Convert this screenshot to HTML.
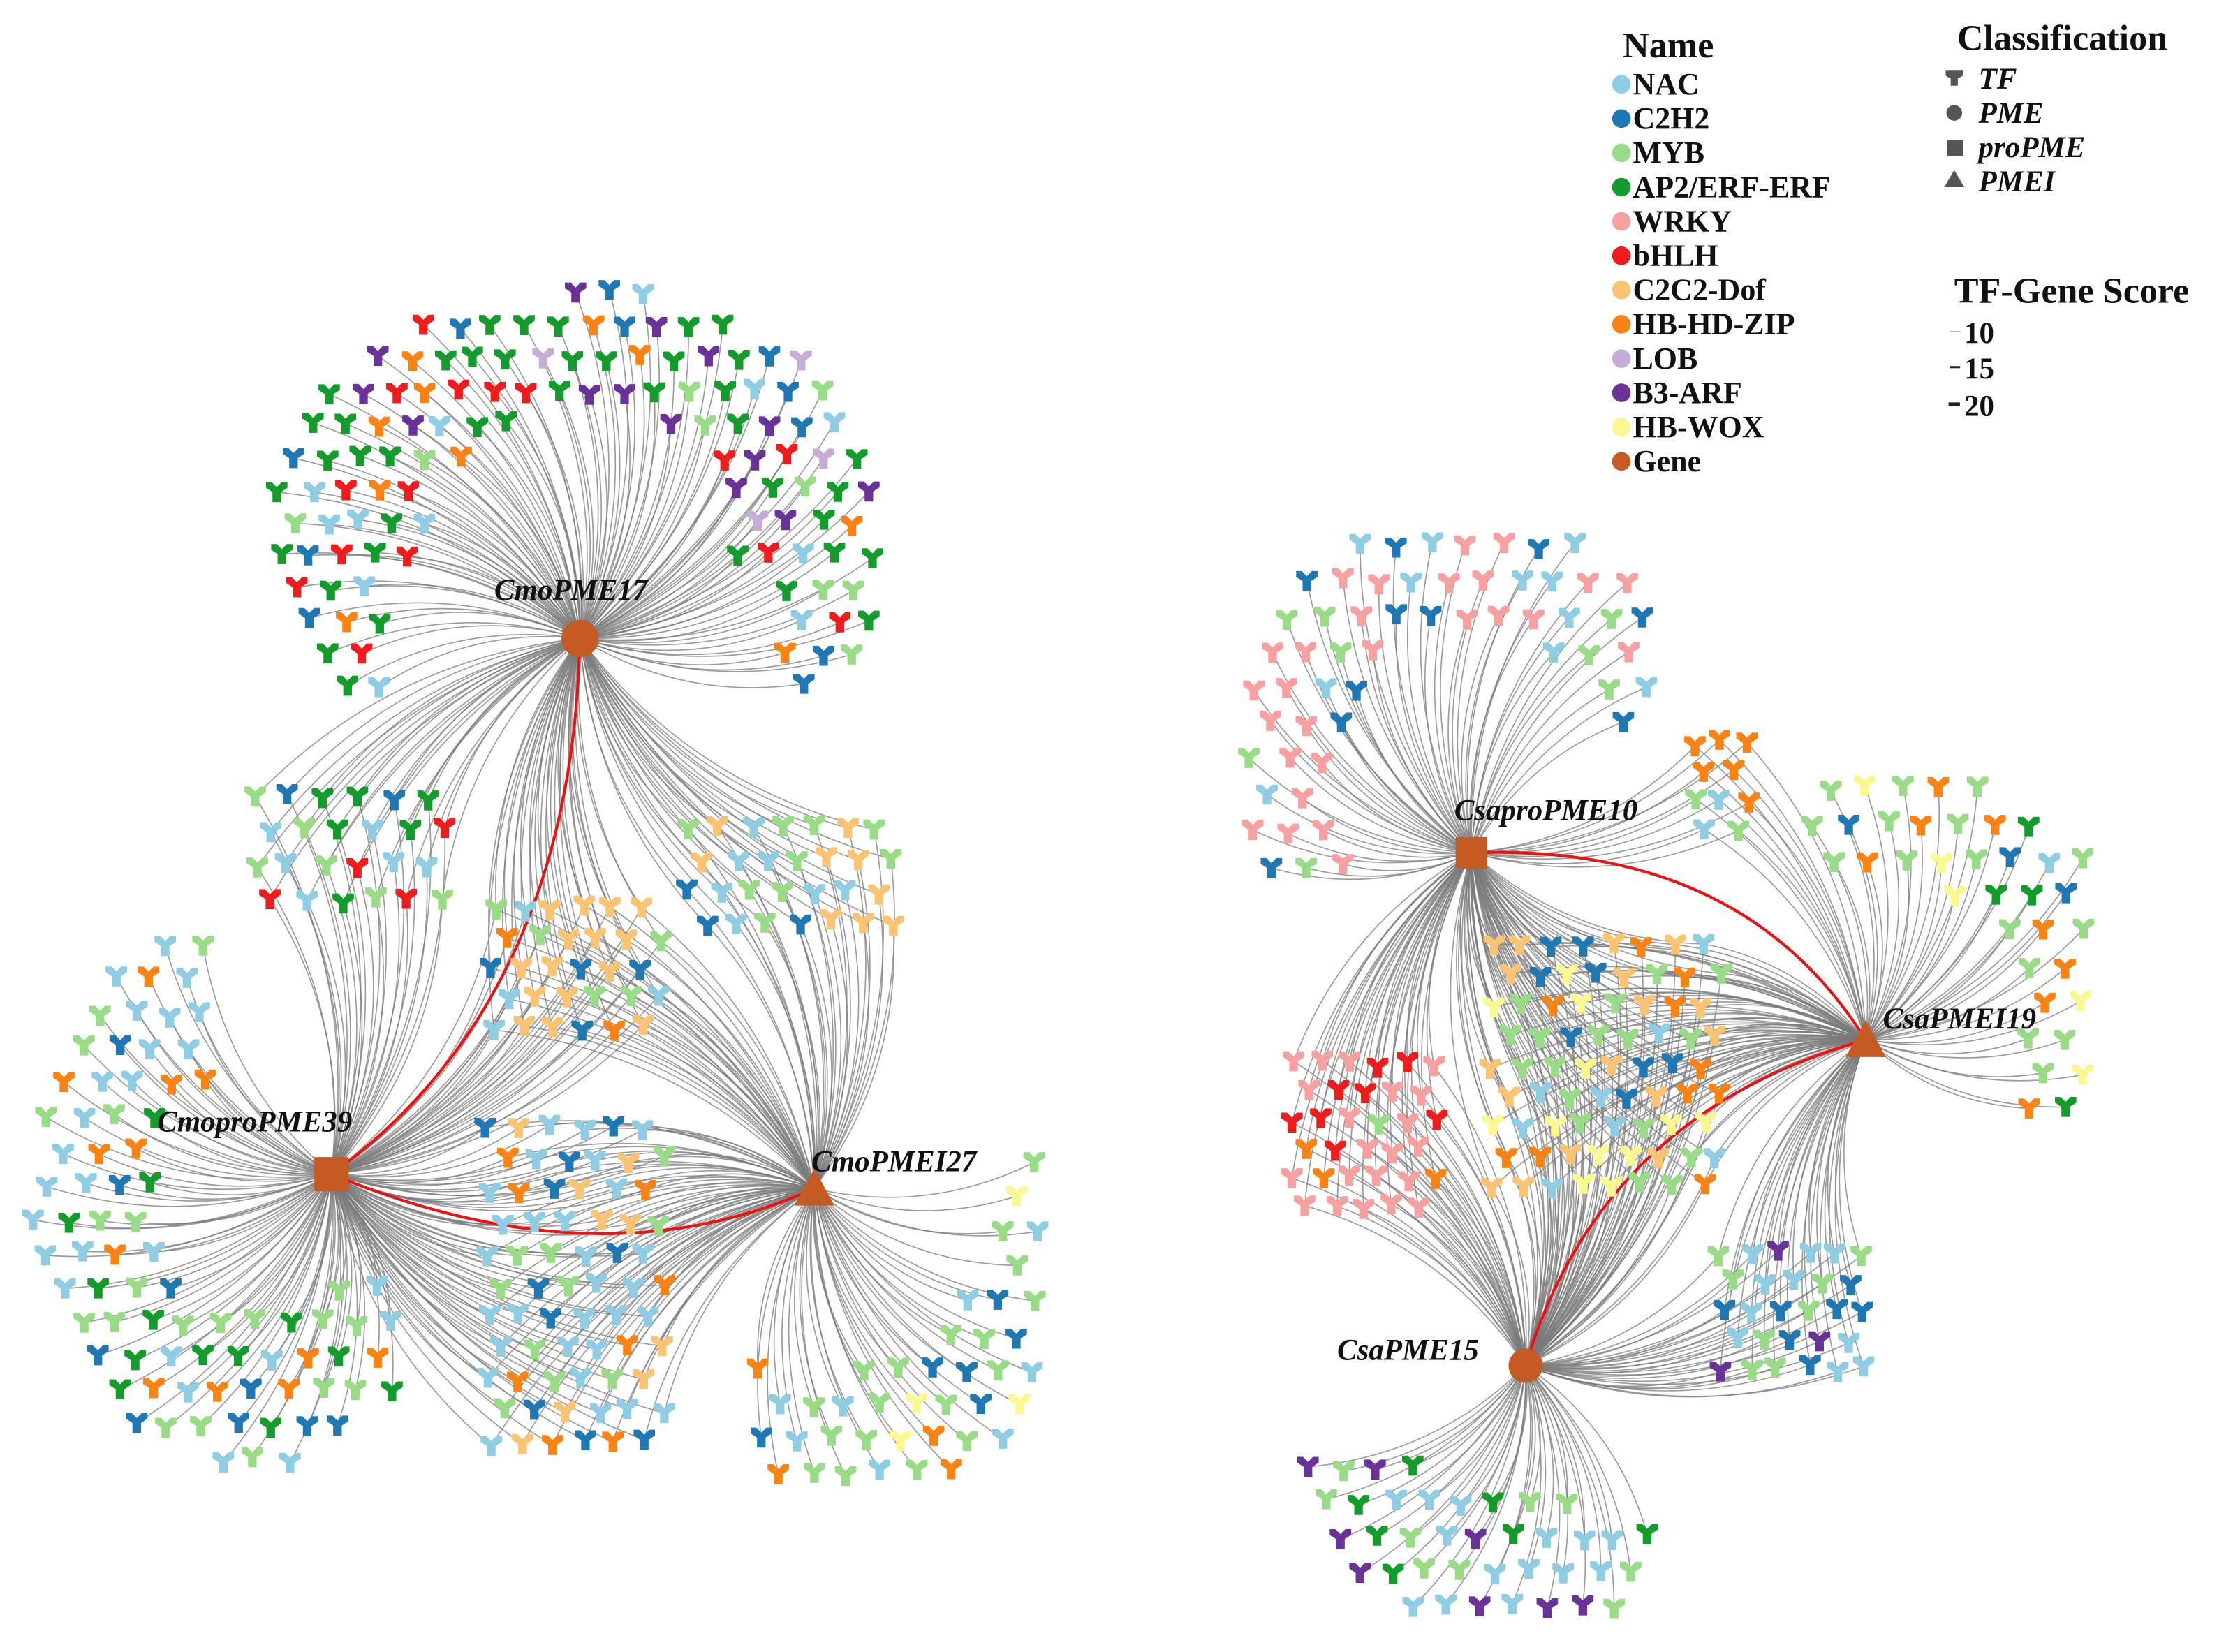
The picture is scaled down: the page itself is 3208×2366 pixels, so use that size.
<!DOCTYPE html>
<html><head><meta charset="utf-8">
<style>
html,body{margin:0;padding:0;background:#fff;}
svg{display:block;}
text{font-family:"Liberation Serif",serif;font-weight:bold;fill:#111;}
</style></head>
<body>
<svg id="s" width="3208" height="2366" viewBox="0 0 1568 1156.5" xmlns="http://www.w3.org/2000/svg">
<g id="edges" fill="none" stroke="#7a7a7a" stroke-width="0.8" stroke-opacity="0.75"></g>
<g id="red" fill="none" stroke="#f01010" stroke-width="2">
<path d="M406,447 Q400,700 232,822"/>
<path d="M232,822 Q420,900 570,832"/>
<path d="M1030,597 Q1220,590 1306,728"/>
<path d="M1306,728 Q1120,780 1068,956"/>
</g>
<g id="nodes"></g>
<g fill="#c55a22">
<circle cx="406" cy="447" r="13"/>
<rect x="220" y="810" width="24" height="24"/>
<polygon points="570,818 584,844 556,844"/>
<rect x="1019" y="586" width="22" height="22"/>
<polygon points="1306,714 1320,740 1292,740"/>
<circle cx="1068" cy="956" r="12"/>
</g>
<g font-style="italic" font-size="21">
<text x="346" y="420">CmoPME17</text>
<text x="110" y="792">CmoproPME39</text>
<text x="568" y="820">CmoPMEI27</text>
<text x="1018" y="574">CsaproPME10</text>
<text x="1318" y="720">CsaPMEI19</text>
<text x="936" y="952">CsaPME15</text>
</g>
<g font-size="25.5"><text x="1136" y="40">Name</text><text x="1370" y="35">Classification</text><text x="1368" y="212">TF-Gene Score</text></g>
<g id="leg" font-size="21.5"></g>
<g font-size="21" font-style="italic">
<text x="1385" y="62">TF</text><text x="1385" y="86">PME</text><text x="1385" y="110">proPME</text><text x="1385" y="134">PMEI</text>
</g>
<g fill="#555"><path d="M1362,49 h12 v4 l-3.5,2 v5 h-5 v-5 l-3.5,-2z"/><circle cx="1368" cy="79" r="5.5"/><rect x="1363" y="98" width="11" height="11"/><polygon points="1368,119 1375,131 1361,131"/></g>
<g font-size="21"><text x="1375" y="240">10</text><text x="1375" y="265">15</text><text x="1375" y="291">20</text></g>
<g stroke="#222"><line x1="1365" y1="232" x2="1372" y2="232" stroke-width="0.5" stroke="#aaa"/><line x1="1365" y1="257" x2="1372" y2="257" stroke-width="1.5"/><line x1="1364" y1="283" x2="1372" y2="283" stroke-width="2.5"/></g>
</svg>
<script>
var C={nac:"#8ecde3",c2h2:"#1f78b4",myb:"#98dc86",erf:"#139c2c",wrky:"#f8a0a0",bhlh:"#ee1c1c",dof:"#fcc373",hd:"#fb8313",lob:"#c8acd8",arf:"#6a3199",wox:"#fbf892",gene:"#c55a22"};
var legN=[["NAC","nac"],["C2H2","c2h2"],["MYB","myb"],["AP2/ERF-ERF","erf"],["WRKY","wrky"],["bHLH","bhlh"],["C2C2-Dof","dof"],["HB-HD-ZIP","hd"],["LOB","lob"],["B3-ARF","arf"],["HB-WOX","wox"],["Gene","gene"]];
var NS="http://www.w3.org/2000/svg",lg=document.getElementById("leg");
legN.forEach(function(l,i){var y=60+i*24;var c=document.createElementNS(NS,"circle");c.setAttribute("cx",1135);c.setAttribute("cy",y-1);c.setAttribute("r",6.5);c.setAttribute("fill",C[l[1]]);lg.appendChild(c);var t=document.createElementNS(NS,"text");t.setAttribute("x",1143);t.setAttribute("y",y+6);t.textContent=l[0];lg.appendChild(t);});
var seed=7;function rnd(){seed=(seed*16807)%2147483647;return (seed-1)/2147483646;}
var H={a:[406,447],b:[232,822],c:[570,832],d:[1030,597],e:[1306,728],f:[1068,956]};
var E="",N="";
function tf(x,y,col){return '<path transform="translate('+x.toFixed(1)+','+y.toFixed(1)+')" fill="'+col+'" d="M-7.5,-7 L-3.5,-7 L0,-3.5 L3.5,-7 L7.5,-7 L7.5,-3 L3,0 L3,7 L-3,7 L-3,0 L-7.5,-3Z"/>';}
function edge(x,y,h,s){var dx=x-h[0],dy=y-h[1];var mx=(x+h[0])/2-dy*0.18*s,my=(y+h[1])/2+dx*0.18*s;return '<path d="M'+h[0]+','+h[1]+' Q'+mx.toFixed(1)+','+my.toFixed(1)+' '+x.toFixed(1)+','+y.toFixed(1)+'"/>';}
function cluster(x0,y0,x1,y1,sp,pal,hubs,filt,sign){for(var y=y0;y<=y1;y+=sp){for(var x=x0+((Math.round((y-y0)/sp))%2)*sp/2;x<=x1;x+=sp){var px=x+(rnd()-0.5)*5,py=y+(rnd()-0.5)*5;if(filt&&!filt(px,py))continue;var col=C[pal[Math.floor(rnd()*pal.length)]];hubs.forEach(function(h){E+=edge(px,py,H[h],sign||1);});N+=tf(px,py,col);}}}
function d(x,y,h){return Math.hypot(x-H[h][0],y-H[h][1]);}
// top fan CmoPME17
cluster(195,205,620,495,23,["erf","erf","erf","erf","bhlh","bhlh","c2h2","nac","lob","myb","hd","arf"],["a"],function(x,y){var u=(x-406)/215,v=(y-375)/170;var r=Math.hypot(u,v);return r>0.5&&r<1.02&&!(y>395&&Math.abs(x-406)<140);},1);
cluster(178,558,318,640,24,["nac","myb","c2h2","erf","bhlh","myb"],["a","b"]);
cluster(482,580,628,662,22,["dof","dof","myb","myb","c2h2","nac"],["a","c"]);
cluster(345,636,470,728,21,["dof","dof","dof","myb","c2h2","hd","nac"],["a","b","c"]);
cluster(22,662,290,1030,24,["nac","nac","myb","myb","hd","erf","c2h2"],["b"],function(x,y){var u=(x-175)/155,v=(y-835)/195;var r=Math.hypot(u,v);return r>0.45&&r<1.0&&d(x,y,"b")>75&&!(x>150&&y<800)&&x<285;},-1);
cluster(342,790,468,1015,22,["nac","nac","c2h2","hd","dof","myb","nac"],["b","c"]);
cluster(532,815,728,1040,24,["myb","myb","myb","hd","nac","c2h2","wox"],["c"],function(x,y){var r=d(x,y,"c");return r>130&&r<225&&(y>900||x>680);},1);
// right network
cluster(876,382,1160,625,25,["wrky","wrky","wrky","nac","myb","c2h2"],["d"],function(x,y){var r=Math.hypot(x-1030,y-540);return r>95&&r<180&&!(y>520&&x>960)&&y<625;},-1);
cluster(1185,520,1232,588,20,["hd","hd","myb","nac"],["d","e"]);
cluster(1270,527,1460,800,25,["myb","myb","myb","nac","hd","wox","c2h2","erf"],["e"],function(x,y){var r=d(x,y,"e");return r>110&&r<200&&!(y>690&&x<1400);},1);
cluster(1045,662,1205,850,21,["dof","dof","hd","c2h2","myb","nac","wox"],["d","e","f"]);
cluster(905,745,1012,852,20,["wrky","wrky","wrky","bhlh","myb","hd"],["d","f"]);
cluster(1205,878,1305,972,20,["nac","nac","myb","c2h2","arf"],["e","f"]);
cluster(915,1028,1160,1138,24,["myb","myb","nac","arf","erf","nac"],["f"],function(x,y){var r=d(x,y,"f");return r>95&&r<190&&!(x>1100&&y<1060);},-1);
document.getElementById("edges").innerHTML=E;
document.getElementById("nodes").innerHTML=N;
</script>
</body></html>
